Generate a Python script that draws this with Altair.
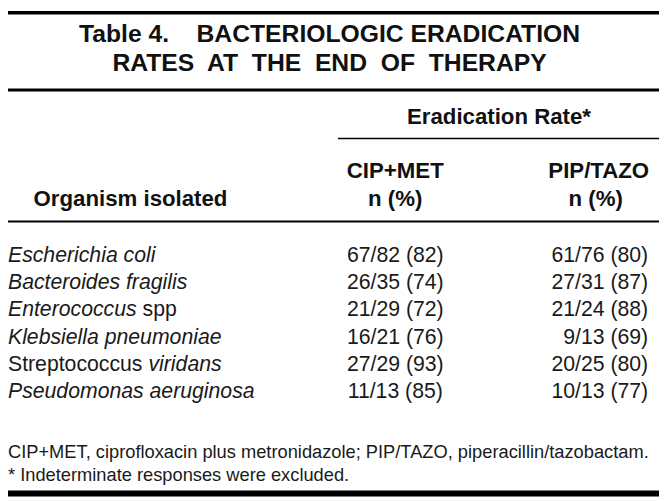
import altair as alt
import pandas as pd

# ---------------- table content ----------------
title_lines = [
    "Table 4.\u00a0\u00a0\u00a0\u00a0BACTERIOLOGIC ERADICATION",
    "RATES\u00a0 AT\u00a0 THE\u00a0 END\u00a0 OF\u00a0 THERAPY",
]
group_header = "Eradication Rate*"
cip_header = ["CIP+MET", "n (%)"]
pip_header = ["PIP/TAZO", "n (%)"]
row_header = "Organism isolated"
organism_parts = [
    [("Escherichia coli", "italic")],
    [("Bacteroides fragilis", "italic")],
    [("Enterococcus ", "italic"), ("spp", "normal")],
    [("Klebsiella pneumoniae", "italic")],
    [("Streptococcus ", "normal"), ("viridans", "italic")],
    [("Pseudomonas aeruginosa", "italic")],
]
cip_met = ["67/82 (82)", "26/35 (74)", "21/29 (72)", "16/21 (76)", "27/29 (93)", "11/13 (85)"]
pip_tazo = ["61/76 (80)", "27/31 (87)", "21/24 (88)", "9/13 (69)", "20/25 (80)", "10/13 (77)"]
footnotes = [
    "CIP+MET, ciprofloxacin plus metronidazole; PIP/TAZO, piperacillin/tazobactam.",
    "* Indeterminate responses were excluded.",
]

# ---------------- layout ----------------
FONT = "Liberation Sans"
W, H = 659, 493
X0, X1, Y0, Y1 = 8, 667, 8, 501
BODY = 21.5
HEAD = 22.5
TITLE = 25
FOOT = 18.5

# Helvetica/Arial advance widths (per 1000 em) for offsets of mixed-style runs
ADV = dict(zip("abcdefghijklmnopqrstuvwxyz",
               [556, 556, 500, 556, 556, 278, 556, 556, 222, 222, 500, 222, 833,
                556, 556, 556, 556, 333, 500, 278, 556, 500, 722, 500, 500, 500]))
ADV.update(dict(zip("ABCDEFGHIJKLMNOPQRSTUVWXYZ",
                    [667, 667, 722, 722, 667, 611, 778, 722, 278, 500, 667, 556, 833,
                     722, 778, 667, 778, 722, 667, 611, 722, 667, 944, 667, 667, 611])))
ADV[" "] = 278


def text_width(s, size):
    return sum(ADV.get(c, 556) for c in s) * size / 1000.0


xs = alt.Scale(domain=[X0, X1])
ys = alt.Scale(domain=[Y1, Y0])


def text_layer(rows, align, size, weight="normal", style="normal", color="#111"):
    df = pd.DataFrame(rows, columns=["x", "y", "t"])
    return alt.Chart(df).mark_text(
        align=align, baseline="alphabetic", font=FONT, fontSize=size,
        fontWeight=weight, fontStyle=style, color=color,
    ).encode(
        x=alt.X("x:Q", scale=xs, axis=None),
        y=alt.Y("y:Q", scale=ys, axis=None),
        text="t:N",
    )


row_y0, row_step = 262, 27.6
row_ys = [row_y0 + i * row_step for i in range(len(cip_met))]

# organism names (runs of italic / roman)
name_italic, name_roman = [], []
for yy, parts in zip(row_ys, organism_parts):
    x = 8
    for txt, st in parts:
        (name_italic if st == "italic" else name_roman).append((x, yy, txt.strip()))
        x += text_width(txt, BODY)

cip_x, pip_center, pip_right = 400, 606, 656

layers = [
    text_layer([(333.5, 39, title_lines[0]), (333.5, 69, title_lines[1])], "center", TITLE, "bold"),
    text_layer([(505, 122, group_header),
                (cip_x, 177, cip_header[0]), (cip_x, 205, cip_header[1]),
                (pip_center, 177, pip_header[0]), (pip_center - 3, 205, pip_header[1]),
                (132, 205, row_header)], "center", HEAD, "bold"),
    text_layer(name_italic, "left", BODY, style="italic", color="#1a1a1a"),
    text_layer(name_roman, "left", BODY, color="#1a1a1a"),
    text_layer([(cip_x, y, v) for y, v in zip(row_ys, cip_met)], "center", BODY, color="#1a1a1a"),
    text_layer([(pip_right, y, v) for y, v in zip(row_ys, pip_tazo)], "right", BODY, color="#1a1a1a"),
    text_layer([(8, 460, footnotes[0]), (8, 484, footnotes[1])], "left", FOOT, color="#1a1a1a"),
]

bars = pd.DataFrame({
    "x": [X0, X0, X0],
    "x2": [X1, X1, X1],
    "y": [8, 86.5, 493.5],
    "y2": [11.5, 89.5, 499.5],
})
bar_layer = alt.Chart(bars).mark_rect(color="#000").encode(
    x=alt.X("x:Q", scale=xs, axis=None), x2="x2:Q",
    y=alt.Y("y:Q", scale=ys, axis=None), y2="y2:Q",
)
rules = pd.DataFrame({"x": [342, X0], "x2": [X1, X1], "y": [137, 221], "w": [1.6, 2.0]})
rule_layers = [
    alt.Chart(rules.iloc[[i]]).mark_rule(color="#000", strokeWidth=float(rules.w[i])).encode(
        x=alt.X("x:Q", scale=xs, axis=None), x2="x2:Q",
        y=alt.Y("y:Q", scale=ys, axis=None),
    )
    for i in range(len(rules))
]

chart = alt.layer(bar_layer, *rule_layers, *layers).properties(
    width=W, height=H, autosize=alt.AutoSizeParams(type="none"), padding=0,
    background="white",
).configure_view(stroke=None)

chart.save("out.html", embed_options={"renderer": "svg", "actions": False})
